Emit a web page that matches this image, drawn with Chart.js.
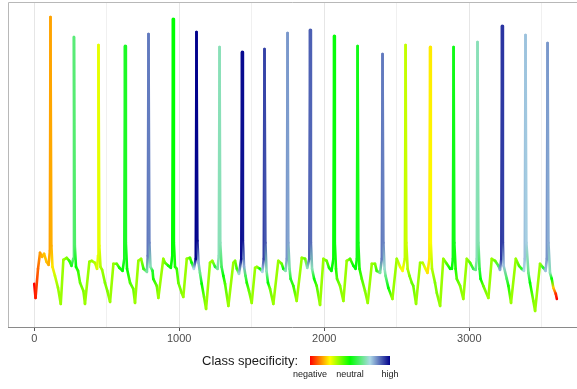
<!DOCTYPE html>
<html>
<head>
<meta charset="utf-8">
<title>Class specificity trace</title>
<script src="https://cdn.jsdelivr.net/npm/chart.js@4.4.1/dist/chart.umd.min.js"></script>
<style>
  html, body { margin: 0; padding: 0; background: #fff; }
  #wrap { position: relative; width: 577px; height: 389px; font-family: "Liberation Sans", Arial, sans-serif; }
  #trace { position: absolute; left: 0; top: 0; }
  .key-title { position: absolute; left: 202px; top: 353px; font-size: 13px; line-height: 16px; color: #1a1a1a; white-space: nowrap; }
  .key-bar { position: absolute; left: 310px; top: 356px; width: 80px; height: 9px; }
  .key-label { position: absolute; top: 369px; font-size: 9px; line-height: 11px; color: #1a1a1a; transform: translateX(-50%); white-space: nowrap; }
</style>
</head>
<body>
<div id="wrap">
  <canvas id="trace" width="577" height="389"></canvas>
  <div class="key-title">Class specificity:</div>
  <div class="key-bar" id="keyBar"></div>
  <div id="keyLabels"></div>
</div>
<script>
// one line per beat: sample position, amplitude, class specificity (-1 negative .. 1 high)
const timeX = [
  0, 9, 26, 40, 54, 68, 85, 99, 108, 112, 118, 126, 143, 164, 183, 201, 224, 242, 257,
  269, 274, 280, 288, 302, 316, 339, 350, 380, 397, 419, 433,
  440, 443, 449, 457, 468, 488, 504, 523, 546, 569, 587, 609,
  621, 626, 632, 640, 661, 683, 695, 718, 737, 754, 777,
  783, 788, 794, 802, 816, 821, 845, 856, 890, 902, 925, 942,
  952, 957, 963, 971, 983, 994, 1017, 1028, 1052, 1074, 1086, 1101,
  1114, 1119, 1125, 1133, 1143, 1155, 1171, 1185, 1212, 1228, 1247, 1264,
  1273, 1278, 1283, 1292, 1304, 1316, 1339, 1373, 1385, 1397, 1412,
  1428, 1433, 1439, 1447, 1457, 1466, 1481, 1500, 1523, 1535, 1557, 1573,
  1583, 1588, 1594, 1602, 1612, 1626, 1649, 1683, 1707, 1718, 1733,
  1742, 1747, 1752, 1761, 1768, 1787, 1810, 1845, 1868, 1883,
  1897, 1902, 1908, 1916, 1930, 1948, 1971, 1994, 2017, 2033, 2050,
  2063, 2068, 2073, 2081, 2088, 2109, 2132, 2155, 2178, 2201, 2216,
  2225, 2230, 2235, 2243, 2259, 2281, 2300, 2328, 2350, 2362, 2385,
  2397, 2402, 2408, 2416, 2423, 2442, 2470, 2500, 2523, 2540,
  2556, 2561, 2566, 2575, 2588, 2604, 2614, 2633, 2661, 2679, 2695, 2712,
  2725, 2730, 2735, 2743, 2764, 2776, 2799, 2821, 2845, 2868, 2880,
  2887, 2892, 2897, 2906, 2914, 2937, 2959, 2983, 3006, 3028, 3044,
  3052, 3057, 3063, 3071, 3078, 3097, 3132, 3155, 3178, 3201, 3212,
  3221, 3226, 3232, 3237, 3259, 3270, 3288, 3321, 3343, 3362, 3377,
  3383, 3388, 3394, 3408, 3419, 3442, 3454, 3488, 3511, 3526,
  3535, 3540, 3546, 3557, 3569, 3580, 3597, 3604
];
const signal = [
  -3, -17, 12, 28, 24, 27, 19, 16, 30, 263, 35, 14, 5, -7, -23, 21, 23, 20, 15,
  22, 243, 35, 14, 10, -2, -10, -23, 19, 20, 18, 12,
  25, 235, 35, 14, 11, -2, -10, -21, 17, 17, 13, 10,
  22, 234, 38, 12, -2, -8, -22, 20, 22, 12, 9,
  25, 246, 38, 14, 10, 2, -5, -17, 22, 18, 15, 13,
  25, 261, 38, 14, 12, -2, -12, -16, 22, 23, 18, 12,
  22, 248, 40, 18, 8, -3, -16, -28, 18, 20, 14, 12,
  25, 233, 38, 14, 5, -3, -25, 18, 20, 12, 7,
  22, 228, 40, 14, 5, -2, -10, -22, 13, 14, 12, 9,
  22, 231, 38, 10, -2, -8, -23, 20, 17, 12, 10,
  22, 247, 38, 12, 2, -5, -20, 23, 22, 13,
  22, 250, 38, 12, 2, -5, -24, 22, 20, 13, 10,
  22, 244, 38, 12, 2, -5, -20, 20, 22, 15, 12,
  22, 234, 38, 12, 2, -10, -22, 17, 17, 10, 8,
  22, 226, 38, 12, 5, -7, -18, 22, 14, 10,
  22, 235, 38, 12, 5, -2, -5, -23, 18, 18, 13, 8,
  22, 233, 38, 12, -2, -12, -25, 22, 17, 12, 12,
  22, 233, 38, 12, 2, -5, -18, 22, 18, 12, 11,
  22, 238, 38, 12, 2, -5, -17, 22, 20, 15, 11,
  22, 254, 38, 15, 2, -5, -22, 22, 15, 12, 10,
  22, 245, 38, 8, -2, -20, -30, 17, 13, 10,
  22, 237, 38, 8, 2, -7, -13, -18
];
const specificity = [
  -1, -0.95, -0.8, -0.7, -0.65, -0.62, -0.62, -0.66, -0.68, -0.68, -0.66, -0.55, -0.4, -0.3, -0.3, -0.3, -0.25, -0.1, 0.05,
  0.26, 0.26, 0.22, 0, -0.1, -0.2, -0.25, -0.3, -0.3, -0.3, -0.35, -0.42,
  -0.45, -0.45, -0.45, -0.35, -0.3, -0.25, -0.25, -0.3, -0.3, -0.2, -0.05, 0,
  0.08, 0.08, 0.08, 0, -0.15, -0.2, -0.3, -0.3, -0.3, -0.1, 0.35,
  0.72, 0.72, 0.7, 0.4, 0.1, -0.05, -0.2, -0.3, -0.3, -0.2, -0.05, 0,
  0, 0, 0, -0.05, -0.1, -0.2, -0.25, -0.3, -0.3, -0.15, 0, 0.5,
  1, 1, 0.98, 0.6, 0.3, 0, -0.2, -0.3, -0.3, -0.3, 0.1, 0.35,
  0.4, 0.4, 0.4, 0.2, 0, -0.15, -0.3, -0.3, -0.25, -0.1, 0.45,
  0.98, 0.98, 0.95, 0.6, 0.2, -0.05, -0.2, -0.3, -0.3, -0.3, 0, 0.5,
  0.85, 0.85, 0.8, 0.4, 0, -0.2, -0.3, -0.3, -0.2, 0, 0.4,
  0.65, 0.65, 0.62, 0.35, 0.1, -0.1, -0.3, -0.3, -0.2, 0.4,
  0.78, 0.78, 0.75, 0.4, 0, -0.15, -0.3, -0.3, -0.2, -0.05, 0,
  0.02, 0.02, 0.02, -0.05, -0.15, -0.25, -0.3, -0.3, -0.15, 0, 0,
  0.05, 0.05, 0.05, -0.05, -0.15, -0.25, -0.3, -0.3, -0.25, -0.1, 0.35,
  0.72, 0.72, 0.7, 0.45, 0.3, 0, -0.3, -0.3, -0.45, -0.5,
  -0.38, -0.38, -0.4, -0.35, -0.25, -0.2, -0.2, -0.3, -0.3, -0.35, -0.45, -0.55,
  -0.54, -0.54, -0.5, -0.35, -0.25, -0.25, -0.3, -0.3, -0.15, 0, 0,
  0.05, 0.05, 0.05, -0.05, -0.15, -0.25, -0.3, -0.3, -0.15, 0.15, 0.3,
  0.4, 0.4, 0.38, 0.15, 0, -0.2, -0.3, -0.3, -0.2, 0.2, 0.6,
  0.88, 0.88, 0.85, 0.55, 0.2, -0.05, -0.3, -0.3, -0.15, 0.1, 0.5,
  0.55, 0.55, 0.52, 0.3, 0, -0.25, -0.3, -0.3, 0.1, 0.55,
  0.65, 0.65, 0.6, 0.4, 0, -0.6, -0.9, -1
];

const gridTicks = [0, 500, 1000, 1500, 2000, 2500, 3000, 3500];
const tickLabels = [0, 1000, 2000, 3000];

const keyLabels = ['negative', 'neutral', 'high'];
const keyLabelAt = [-1, 0, 1];
const specStops = [-1, -0.5, 0, 0.5, 1];
const specColours = ['#ff0000', '#ffff00', '#00ff00', '#add8e6', '#00008b'];

const FONT = '"Liberation Sans", Arial, sans-serif';

function hexToRgb(h) {
  const n = parseInt(h.slice(1), 16);
  return [(n >> 16) & 255, (n >> 8) & 255, n & 255];
}
const stopRgb = specColours.map(hexToRgb);

// linear colour ramp red -> yellow -> green -> light blue -> dark blue
function specColor(s) {
  s = Math.max(specStops[0], Math.min(specStops[specStops.length - 1], s));
  let i = 0;
  while (i < specStops.length - 2 && s > specStops[i + 1]) i++;
  const f = (s - specStops[i]) / (specStops[i + 1] - specStops[i]);
  const a = stopRgb[i], b = stopRgb[i + 1];
  const c = a.map((v, k) => Math.round(v + (b[k] - v) * f));
  return `rgb(${c[0]},${c[1]},${c[2]})`;
}

// each segment fades from the colour of its first point to the colour of its second
function segmentGradient(ctx) {
  const g = ctx.chart.ctx.createLinearGradient(ctx.p0.x, ctx.p0.y, ctx.p1.x, ctx.p1.y);
  g.addColorStop(0, specColor(specificity[ctx.p0DataIndex]));
  g.addColorStop(1, specColor(specificity[ctx.p1DataIndex]));
  return g;
}

// grey frame: light on top and left, darker axis line along the bottom
const panelFrame = {
  id: 'panelFrame',
  afterDatasetsDraw(chart) {
    const { ctx, chartArea: a } = chart;
    ctx.save();
    ctx.lineWidth = 1;
    ctx.strokeStyle = '#b8b8b8';
    ctx.beginPath();
    ctx.moveTo(a.left - 0.5, a.bottom);
    ctx.lineTo(a.left - 0.5, a.top - 0.5);
    ctx.lineTo(a.right, a.top - 0.5);
    ctx.stroke();
    ctx.strokeStyle = '#8a8a8a';
    ctx.beginPath();
    ctx.moveTo(a.left - 1, a.bottom + 0.5);
    ctx.lineTo(a.right, a.bottom + 0.5);
    ctx.stroke();
    ctx.restore();
  }
};

new Chart(document.getElementById('trace'), {
  type: 'line',
  data: {
    datasets: [{
      data: timeX.map((x, i) => ({ x, y: signal[i] })),
      borderWidth: 2.6,
      borderCapStyle: 'round',
      borderJoinStyle: 'round',
      pointRadius: 0,
      tension: 0,
      segment: { borderColor: segmentGradient }
    }]
  },
  options: {
    responsive: false,
    animation: false,
    layout: { padding: { left: 9, top: 3, right: 0, bottom: 42.8 } },
    plugins: { legend: { display: false }, tooltip: { enabled: false } },
    scales: {
      x: {
        type: 'linear',
        min: -174,
        max: 3743,
        afterBuildTicks: scale => { scale.ticks = gridTicks.map(v => ({ value: v })); },
        border: { display: false },
        grid: {
          color: c => tickLabels.includes(c.tick && c.tick.value) ? '#e6e6e6' : '#f0f0f0',
          tickColor: c => tickLabels.includes(c.tick && c.tick.value) ? '#555555' : 'rgba(0,0,0,0)',
          tickLength: 4,
          lineWidth: 1
        },
        ticks: {
          autoSkip: false,
          maxRotation: 0,
          padding: 1,
          color: '#4d4d4d',
          font: { family: FONT, size: 11 },
          callback: v => tickLabels.includes(v) ? String(v) : ''
        }
      },
      y: { display: false, min: -46, max: 277 }
    }
  },
  plugins: [panelFrame]
});

// colour key below the panel
const bar = document.getElementById('keyBar');
bar.style.background = 'linear-gradient(to right, ' +
  specStops.map((s, i) => `${specColours[i]} ${((s + 1) / 2 * 100).toFixed(1)}%`).join(', ') + ')';
const labelHolder = document.getElementById('keyLabels');
keyLabels.forEach((t, i) => {
  const el = document.createElement('div');
  el.className = 'key-label';
  el.textContent = t;
  el.style.left = (310 + (keyLabelAt[i] + 1) / 2 * 80) + 'px';
  labelHolder.appendChild(el);
});
</script>
</body>
</html>
